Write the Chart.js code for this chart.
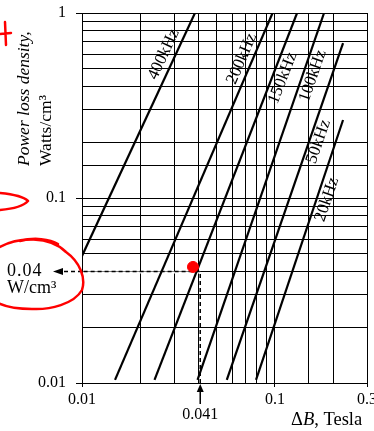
<!DOCTYPE html>
<html>
<head>
<meta charset="utf-8">
<script src="https://cdn.jsdelivr.net/npm/chart.js@4.4.1/dist/chart.umd.min.js"></script>
<style>
  html, body { margin: 0; padding: 0; background: #fff; }
</style>
</head>
<body>
<canvas id="chart" width="374" height="431"></canvas>
<script>
// loss lines: each is a straight segment on log-log axes
const frequencies = ['400kHz', '200kHz', '150kHz', '100kHz', '50kHz', '20kHz'];
const startB = [0.01, 0.01483, 0.02376, 0.0397, 0.0563, 0.0798];
const startP = [0.0486, 0.0104, 0.0104, 0.0104, 0.0104, 0.0104];
const endB = [0.0385, 0.0972, 0.1302, 0.1797, 0.2254, 0.2254];
const endP = [1, 1, 1, 1, 0.688, 0.264];

const xTickLabels = [0.01, 0.1, 0.3];
const yTickLabels = [0.01, 0.1, 1];

// the worked example: 0.041 T -> 0.04 W/cm3
const markB = 0.041;
const markP = 0.04;
const redDotB = [0.0376];
const redDotP = [0.0424];

const SERIF = '"Liberation Serif", "DejaVu Serif", serif';

function isLabelled(v, list) {
    return list.some(t => Math.abs(t - v) / t < 1e-6);
}

const lineSets = frequencies.map((f, i) => ({
    label: f,
    data: [{ x: startB[i], y: startP[i] }, { x: endB[i], y: endP[i] }],
    borderColor: '#000',
    borderWidth: 2.2,
    pointRadius: 0,
    fill: false
}));

// where each frequency label sits along its line (fraction of the segment, sideways shift in px)
const labelT = [0.83, 0.875, 0.823, 0.829, 0.7075, 0.694];
const labelDx = [-12, -11, 11, 10.5, 9.5, 10.6];

const annotate = {
    id: 'annotate',
    beforeDatasetsDraw(chart) {
        const { ctx, chartArea: a, scales: { x, y } } = chart;
        const px = x.getPixelForValue(markB);
        const py = Math.round(y.getPixelForValue(markP)) + 0.5;
        // clear the grid line under the dashed leader
        ctx.save();
        ctx.strokeStyle = '#fff';
        ctx.lineWidth = 2;
        ctx.beginPath();
        ctx.moveTo(a.left + 1, py);
        ctx.lineTo(px, py);
        ctx.stroke();
        ctx.restore();
    },
    afterDraw(chart) {
        const { ctx, chartArea: a, scales: { x, y } } = chart;
        const px = x.getPixelForValue(markB);
        const py = y.getPixelForValue(markP);

        ctx.save();
        ctx.fillStyle = '#000';
        ctx.strokeStyle = '#000';

        // frequency labels along the lines
        ctx.font = '17px ' + SERIF;
        ctx.textAlign = 'center';
        ctx.textBaseline = 'middle';
        frequencies.forEach((f, i) => {
            const x0 = x.getPixelForValue(startB[i]), y0 = y.getPixelForValue(startP[i]);
            const x1 = x.getPixelForValue(endB[i]), y1 = y.getPixelForValue(endP[i]);
            const t = labelT[i];
            const cx = x0 + (x1 - x0) * t + labelDx[i];
            const cy = y0 + (y1 - y0) * t;
            ctx.save();
            ctx.translate(cx, cy);
            ctx.rotate(Math.atan2(y1 - y0, x1 - x0));
            ctx.fillText(f, 0, 0);
            ctx.restore();
        });

        // leader to the left, outside the plot
        ctx.lineWidth = 1.5;
        ctx.setLineDash([4, 3]);
        ctx.beginPath();
        ctx.moveTo(a.left, py);
        ctx.lineTo(61, py);
        ctx.stroke();
        ctx.setLineDash([]);
        ctx.beginPath();
        ctx.moveTo(53, py);
        ctx.lineTo(63, py - 3.5);
        ctx.lineTo(63, py + 3.5);
        ctx.closePath();
        ctx.fill();

        // arrow up to 0.041 under the axis
        ctx.beginPath();
        ctx.moveTo(px, 404);
        ctx.lineTo(px, 389);
        ctx.stroke();
        ctx.beginPath();
        ctx.moveTo(px, a.bottom + 1);
        ctx.lineTo(px - 3.5, a.bottom + 9);
        ctx.lineTo(px + 3.5, a.bottom + 9);
        ctx.closePath();
        ctx.fill();

        ctx.font = '16px ' + SERIF;
        ctx.textAlign = 'center';
        ctx.textBaseline = 'middle';
        ctx.fillText('0.041', px, 415);

        // value
        ctx.textAlign = 'left';
        ctx.font = '18px ' + SERIF;
        ctx.letterSpacing = '1px';
        ctx.fillText('0.04', 7, py);
        ctx.letterSpacing = '0px';
        ctx.fillText('W/cm³', 7, py + 17);

        // axis titles
        ctx.save();
        ctx.translate(24, 166);
        ctx.rotate(-Math.PI / 2);
        ctx.font = 'italic 17.5px ' + SERIF;
        ctx.fillText('Power loss density,', 0, 0);
        ctx.restore();
        ctx.save();
        ctx.translate(46, 166);
        ctx.rotate(-Math.PI / 2);
        ctx.font = '17.5px ' + SERIF;
        ctx.fillText('Watts/cm³', 0, 0);
        ctx.restore();

        let tx = 291;
        const ty = 420;
        ctx.font = '18.5px ' + SERIF;
        ctx.fillText('Δ', tx, ty);
        tx += ctx.measureText('Δ').width;
        ctx.font = 'italic 18.5px ' + SERIF;
        ctx.fillText('B', tx, ty);
        tx += ctx.measureText('B').width;
        ctx.font = '18.5px ' + SERIF;
        ctx.fillText(', Tesla', tx, ty);

        // red pen marks on the scan
        ctx.strokeStyle = '#f00';
        ctx.lineWidth = 2.5;
        ctx.lineJoin = 'round';
        ctx.lineCap = 'round';
        ctx.beginPath();
        ctx.moveTo(0, 34); ctx.lineTo(11, 33);
        ctx.moveTo(5, 22); ctx.lineTo(6, 45);
        ctx.stroke();

        ctx.beginPath();
        ctx.moveTo(0, 193);
        ctx.quadraticCurveTo(22, 195, 28, 201);
        ctx.quadraticCurveTo(22, 208, 0, 210);
        ctx.stroke();

        ctx.beginPath();
        ctx.moveTo(-2, 248);
        ctx.bezierCurveTo(18, 236, 50, 236, 66, 252);
        ctx.bezierCurveTo(80, 262, 86, 278, 82, 290);
        ctx.bezierCurveTo(74, 304, 50, 310, 32, 309);
        ctx.bezierCurveTo(18, 309, 6, 307, -2, 303);
        ctx.stroke();
        ctx.beginPath();
        ctx.moveTo(20, 241);
        ctx.bezierCurveTo(34, 237, 50, 239, 58, 244);
        ctx.stroke();

        ctx.restore();
    }
};

new Chart(document.getElementById('chart'), {
    type: 'line',
    data: {
        datasets: [
            {
                label: 'mark',
                data: redDotB.map((b, i) => ({ x: b, y: redDotP[i] })),
                showLine: false,
                pointRadius: 5.5,
                pointBackgroundColor: '#f00',
                pointBorderColor: '#f00',
                pointBorderWidth: 1
            },
            {
                label: 'leader',
                data: [{ x: markB, y: yTickLabels[0] }, { x: markB, y: markP }, { x: xTickLabels[0], y: markP }],
                borderColor: '#000',
                borderWidth: 1.5,
                borderDash: [4, 3],
                pointRadius: 0,
                fill: false
            },
            ...lineSets
        ]
    },
    options: {
        responsive: false,
        animation: false,
        devicePixelRatio: 1,
        layout: { padding: { left: 0, right: 7, top: 13, bottom: 0 } },
        plugins: { legend: { display: false }, tooltip: { enabled: false } },
        scales: {
            x: {
                type: 'logarithmic',
                min: 0.01,
                max: 0.3,
                afterFit(s) { s.height = 48; s.paddingLeft = 0; s.paddingRight = 0; },
                border: { color: '#000', width: 1 },
                grid: {
                    color: '#000',
                    lineWidth: 1,
                    tickLength: 4,
                    tickColor: c => (c.tick && c.tick.label ? '#000' : 'rgba(0,0,0,0)')
                },
                ticks: {
                    autoSkip: false,
                    maxRotation: 0,
                    padding: 3,
                    color: '#000',
                    font: { family: SERIF, size: 16 },
                    callback: v => (isLabelled(v, xTickLabels) ? String(v) : '')
                }
            },
            y: {
                type: 'logarithmic',
                min: 0.01,
                max: 1,
                afterFit(s) { s.width = 82; s.paddingTop = 0; s.paddingBottom = 0; },
                border: { color: '#000', width: 1 },
                grid: {
                    color: '#000',
                    lineWidth: 1,
                    tickLength: 6,
                    tickColor: c => (c.tick && c.tick.label ? '#000' : 'rgba(0,0,0,0)')
                },
                ticks: {
                    autoSkip: false,
                    padding: 10,
                    color: '#000',
                    font: { family: SERIF, size: 16 },
                    callback: v => (isLabelled(v, yTickLabels) ? String(v) : '')
                }
            }
        }
    },
    plugins: [annotate]
});
</script>
</body>
</html>
